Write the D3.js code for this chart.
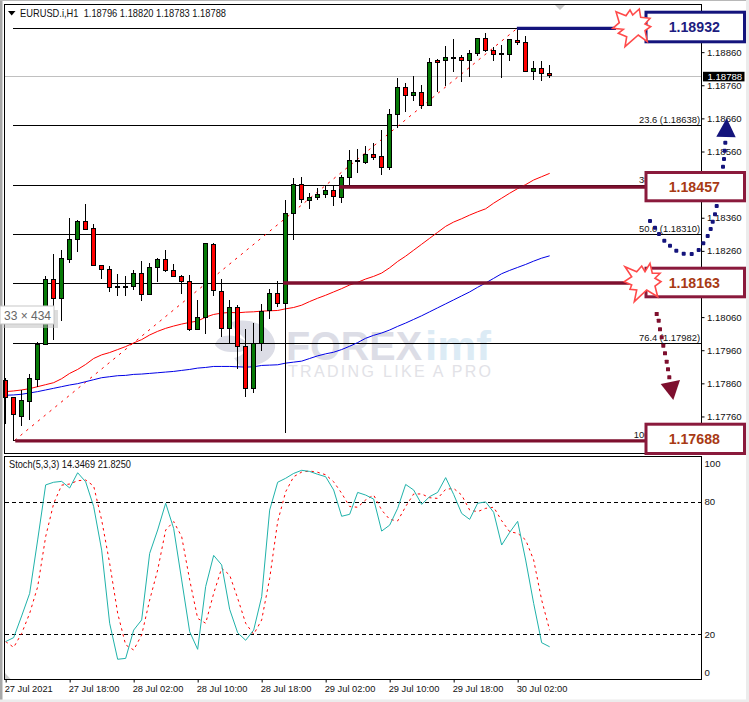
<!DOCTYPE html>
<html><head><meta charset="utf-8">
<script src="https://cdn.jsdelivr.net/npm/d3@7/dist/d3.min.js"></script>
<style>html,body{margin:0;padding:0;background:#fff}svg{display:block}
text{font-family:"Liberation Sans",Arial,sans-serif}</style></head><body>
<svg id="c" width="749" height="702"></svg>
<script>
const opens=[1.17868,1.17816,1.17760,1.17804,1.17872,1.17976,1.18173,1.18116,1.18235,1.18294,1.18349,1.18327,1.18215,1.18203,1.18152,1.18150,1.18152,1.18191,1.18127,1.18209,1.18234,1.18200,1.18182,1.18167,1.18024,1.18058,1.18279,1.18137,1.18027,1.18088,1.17970,1.17845,1.17981,1.18080,1.18131,1.18101,1.18373,1.18461,1.18413,1.18420,1.18429,1.18442,1.18420,1.18482,1.18533,1.18528,1.18551,1.18545,1.18511,1.18672,1.18754,1.18729,1.18739,1.18698,1.18834,1.18835,1.18845,1.18845,1.18835,1.18857,1.18902,1.18866,1.18857,1.18854,1.18896,1.18890,1.18801,1.18812,1.18796];
const highs=[1.17875,1.17818,1.17841,1.17887,1.17986,1.18183,1.18250,1.18264,1.18359,1.18353,1.18401,1.18340,1.18215,1.18215,1.18189,1.18183,1.18203,1.18229,1.18222,1.18237,1.18262,1.18219,1.18186,1.18186,1.18111,1.18283,1.18285,1.18176,1.18111,1.18098,1.18023,1.18041,1.18101,1.18146,1.18168,1.18415,1.18479,1.18482,1.18435,1.18449,1.18458,1.18458,1.18489,1.18564,1.18567,1.18577,1.18585,1.18625,1.18688,1.18782,1.18766,1.18788,1.18761,1.18843,1.18840,1.18879,1.18900,1.18852,1.18865,1.18904,1.18918,1.18877,1.18882,1.18900,1.18932,1.18909,1.18834,1.18834,1.18820];
const lows=[1.17737,1.17687,1.17730,1.17748,1.17848,1.17976,1.17990,1.18048,1.18223,1.18257,1.18322,1.18215,1.18175,1.18136,1.18124,1.18124,1.18141,1.18110,1.18127,1.18165,1.18196,1.18184,1.18129,1.18018,1.18020,1.18008,1.18124,1.17999,1.17980,1.17903,1.17818,1.17830,1.17959,1.18053,1.18090,1.17709,1.18292,1.18403,1.18386,1.18413,1.18420,1.18395,1.18405,1.18458,1.18496,1.18522,1.18534,1.18490,1.18504,1.18630,1.18680,1.18711,1.18688,1.18697,1.18741,1.18758,1.18801,1.18771,1.18786,1.18847,1.18859,1.18832,1.18783,1.18834,1.18883,1.18801,1.18776,1.18774,1.18783];
const closes=[1.17816,1.17765,1.17807,1.17874,1.17977,1.18173,1.18116,1.18237,1.18294,1.18349,1.18326,1.18215,1.18203,1.18149,1.18148,1.18152,1.18191,1.18127,1.18209,1.18234,1.18200,1.18184,1.18166,1.18024,1.18058,1.18282,1.18139,1.18027,1.18088,1.17970,1.17845,1.17981,1.18078,1.18131,1.18101,1.18373,1.18461,1.18415,1.18421,1.18431,1.18442,1.18423,1.18482,1.18533,1.18531,1.18551,1.18542,1.18511,1.18672,1.18754,1.18730,1.18739,1.18698,1.18830,1.18830,1.18845,1.18843,1.18835,1.18857,1.18902,1.18866,1.18854,1.18854,1.18897,1.18889,1.18801,1.18812,1.18796,1.18788];
const maRed=[1.17835,1.17837,1.17840,1.17844,1.17850,1.17856,1.17862,1.17874,1.17890,1.17902,1.17917,1.17935,1.17946,1.17953,1.17962,1.17971,1.17982,1.17992,1.18006,1.18017,1.18026,1.18033,1.18039,1.18044,1.18048,1.18060,1.18068,1.18072,1.18074,1.18073,1.18075,1.18076,1.18078,1.18079,1.18080,1.18085,1.18089,1.18096,1.18107,1.18117,1.18126,1.18136,1.18146,1.18157,1.18165,1.18175,1.18183,1.18193,1.18209,1.18228,1.18244,1.18262,1.18280,1.18298,1.18316,1.18334,1.18347,1.18357,1.18368,1.18378,1.18387,1.18404,1.18419,1.18434,1.18448,1.18460,1.18474,1.18484,1.18494];
const maBlue=[1.17824,1.17825,1.17827,1.17831,1.17835,1.17840,1.17845,1.17850,1.17855,1.17859,1.17865,1.17871,1.17877,1.17880,1.17883,1.17884,1.17887,1.17888,1.17890,1.17892,1.17894,1.17896,1.17899,1.17902,1.17906,1.17908,1.17911,1.17911,1.17911,1.17910,1.17909,1.17910,1.17914,1.17915,1.17916,1.17921,1.17924,1.17927,1.17935,1.17943,1.17949,1.17954,1.17962,1.17972,1.17983,1.17996,1.18005,1.18012,1.18021,1.18032,1.18042,1.18053,1.18064,1.18076,1.18088,1.18100,1.18112,1.18124,1.18136,1.18150,1.18163,1.18177,1.18191,1.18201,1.18210,1.18219,1.18229,1.18238,1.18245];
const stochMain=[16.7,18.5,28.3,38.5,62.7,87.6,88.8,89.2,86.2,93.1,89,77.8,58.1,25,8.7,9.1,21.9,26.5,56.6,67.2,79.3,67.9,44.6,21.2,13.2,41.6,55.7,51.4,31.3,20.7,17.3,21.9,37,76.2,88.8,90.6,92.8,94.2,93.7,92.4,91.3,85.3,73.4,74.3,84.2,83,81.2,66.7,69.4,77,87.8,85.3,78.8,82.3,84.2,90.9,83.3,74.7,72,79.3,79.9,75.2,60.4,66.1,71.1,53.6,34,16.2,14.35];
const stochSignal=[16.7,14.1,20.4,29.5,41.5,64.2,79.2,87.5,88,89.5,89.8,87.1,71.7,52.1,29.5,15.2,12.9,19.7,35.5,49.1,67.2,71,64.2,44.6,27.2,25,38.5,49.9,46.8,36.3,25,20,26.5,45.3,71,84.5,91.3,93.4,93.9,93.3,92.2,89,83.8,77.8,77.5,80.8,83,76.2,72,71.3,77.8,83.5,83.5,81.8,81.5,85.6,86,83,76.2,75.5,77,77.5,71.4,66.4,65.7,62.7,53.6,35.5,21.83];
const priceTicks=[1.18860,1.18760,1.18660,1.18560,1.18460,1.18360,1.18260,1.18160,1.18060,1.17960,1.17860,1.17760];
const stochTicks=[100,80,20,0];
const stochLevels=[80,20];
const timeLabels=["27 Jul 2021","27 Jul 18:00","28 Jul 02:00","28 Jul 10:00","28 Jul 18:00","29 Jul 02:00","29 Jul 10:00","29 Jul 18:00","30 Jul 02:00"];
const timeTickIdx=[0,8,16,24,32,40,48,56,64];
const fiboPrices=[1.18932,1.18638,1.18457,1.18310,1.18163,1.17982,1.17688];
const fiboLabels=["","23.6 (1.18638)","38.2 (1.18457)","50.0 (1.18310)","61.8 (1.18163)","76.4 (1.17982)","100.0 (1.17688)"];
const currentPrice=1.18788;
const boxPrices=["1.18932","1.18457","1.18163","1.17688"];

const svg=d3.select("#c");
const x=d3.scaleLinear().domain([0,68]).range([5.67,549.67]);
const y=d3.scaleLinear().domain([1.17688,1.18932]).range([440.3,28.3]);
const yS=d3.scaleLinear().domain([0,100]).range([678.5,457.5]);
const px=i=>Math.floor(x(i))+.5;
const rowY=p=>Math.round(y(p)-.4)+.5;
const black="#000", GREEN="#067a06", RED="#ff0000", NAVY="#14147c", MAROON="#7e0f2e";

// window frame
svg.append("rect").attr("width",749).attr("height",702).attr("fill","#fff");
svg.append("rect").attr("x",0).attr("y",0).attr("width",2.5).attr("height",702).attr("fill","#a8a8a8");
svg.append("rect").attr("x",0).attr("y",0).attr("width",749).attr("height",1).attr("fill","#b8b8b8");
svg.append("rect").attr("x",746).attr("y",0).attr("width",3).attr("height",702).attr("fill","#ececec");
svg.append("rect").attr("x",0).attr("y",699.5).attr("width",749).attr("height",2.5).attr("fill","#ececec");

// watermark
const wm=svg.append("g");
wm.append("path").attr("d","M232 322 C255 316 277 330 275 348 C273 360 258 368 240 366 L234 358 C246 356 250 345 244 338 C238 332 232 328 232 322Z").attr("fill","#dcdde6");
wm.append("path").attr("d","M215 345 C218 334 232 333 244 340 C250 345 246 352 238 352 C228 352 220 352 215 345Z").attr("fill","#dcdde6");
wm.append("text").attr("x",286).attr("y",360).attr("font-size",41).attr("font-weight",700).attr("fill","#dcdde6").attr("textLength",136).attr("lengthAdjust","spacingAndGlyphs").text("FOREX");
wm.append("text").attr("x",425).attr("y",360).attr("font-size",41).attr("font-weight",700).attr("fill","#dcebf5").attr("textLength",66).attr("lengthAdjust","spacingAndGlyphs").text("imf");
wm.append("text").attr("x",288).attr("y",377).attr("font-size",16).attr("fill","#e2e2e7").attr("textLength",203).text("TRADING LIKE A PRO");

// current-price line
svg.append("line").attr("x1",5).attr("x2",701).attr("y1",rowY(currentPrice)).attr("y2",rowY(currentPrice)).attr("stroke","#c0c0c0");

// fibo levels
svg.append("g").attr("shape-rendering","crispEdges").selectAll("line").data(fiboPrices).join("line")
 .attr("x1",13).attr("x2",701).attr("y1",rowY).attr("y2",rowY).attr("stroke",black);
svg.append("g").selectAll("text").data(fiboPrices).join("text")
 .attr("x",700).attr("y",d=>rowY(d)-3).attr("text-anchor","end").attr("font-size",9.4).attr("fill","#111")
 .text((d,i)=>fiboLabels[i]);
// fibo trend line
svg.append("line").attr("x1",x(1)+1).attr("y1",y(1.17688)).attr("x2",x(64)-.5).attr("y2",y(1.18932))
 .attr("stroke",RED).attr("stroke-dasharray","2.5,5");

// moving averages
const ln=sc=>d3.line().x((d,i)=>x(i)).y(d=>sc(d));
svg.append("path").attr("d",ln(y)(maBlue)).attr("fill","none").attr("stroke","#0000e6");
svg.append("path").attr("d",ln(y)(maRed)).attr("fill","none").attr("stroke",RED);

// candles
const idx=d3.range(closes.length);
const cg=svg.append("g").attr("shape-rendering","crispEdges");
cg.selectAll("line").data(idx).join("line").attr("x1",px).attr("x2",px)
 .attr("y1",i=>y(highs[i])).attr("y2",i=>y(lows[i])).attr("stroke",black);
cg.selectAll("rect").data(idx).join("rect")
 .attr("x",i=>px(i)-2).attr("width",4)
 .attr("y",i=>Math.min(y(opens[i]),y(closes[i])))
 .attr("height",i=>Math.max(1,Math.abs(y(opens[i])-y(closes[i]))))
 .attr("fill",i=>closes[i]>=opens[i]?GREEN:RED).attr("stroke",black);

// thick annotation lines
const thick=[[1.18932,63.9,616,NAVY,3.2],[1.18453,41.7,650,MAROON,3.6],[1.18163,34.7,630,MAROON,3.6],[1.17686,1.2,650,MAROON,3.2]];
svg.append("g").selectAll("line").data(thick).join("line")
 .attr("x1",d=>x(d[1])).attr("x2",d=>d[2]).attr("y1",d=>y(d[0])).attr("y2",d=>y(d[0])).attr("stroke",d=>d[3]).attr("stroke-width",d=>d[4]);

// panels & axes
const frame=svg.append("g").attr("shape-rendering","crispEdges");
frame.append("path").attr("d","M4.5 4.5H701.5V453.5H4.5Z").attr("fill","none").attr("stroke",black);
frame.append("path").attr("d","M4.5 456.5H701.5V679.5H4.5Z").attr("fill","none").attr("stroke",black);

const axP=svg.append("g").attr("transform","translate(701.5,0)")
 .call(d3.axisRight(y).tickValues(priceTicks).tickFormat(d3.format(".5f")).tickSize(3).tickPadding(2.5));
axP.select(".domain").remove();
axP.selectAll("text").attr("font-size",9.6).attr("font-family","Liberation Sans").attr("fill","#111");
axP.selectAll("line").attr("stroke",black);

const axT=svg.append("g").attr("transform","translate(0,679.5)")
 .call(d3.axisBottom(x).tickValues(timeTickIdx).tickFormat((d,i)=>timeLabels[i]).tickSize(3).tickPadding(3));
axT.select(".domain").remove();
axT.selectAll("text").attr("font-size",9.3).attr("font-family","Liberation Sans").attr("fill","#111").attr("text-anchor","start").attr("dx",-1.5);
axT.selectAll("line").attr("stroke",black);

const axS=svg.append("g").attr("transform","translate(701.5,0)")
 .call(d3.axisRight(yS).tickValues(stochTicks).tickSize(0).tickPadding(3));
axS.select(".domain").remove();
axS.selectAll("text").attr("font-size",9.6).attr("font-family","Liberation Sans").attr("fill","#111")
 .attr("dy",d=>d===100?"0.92em":d===0?"-0.3em":"0.32em");

// stochastic
svg.append("g").selectAll("line").data(stochLevels).join("line")
 .attr("x1",5).attr("x2",701).attr("y1",d=>Math.round(yS(d))+.5).attr("y2",d=>Math.round(yS(d))+.5)
 .attr("stroke",black).attr("stroke-dasharray","4,3");
svg.append("path").attr("d",ln(yS)(stochSignal)).attr("fill","none").attr("stroke",RED).attr("stroke-dasharray","2.5,3.5");
svg.append("path").attr("d",ln(yS)(stochMain)).attr("fill","none").attr("stroke","#20b2aa");

// small markers
svg.append("path").attr("d","M8 11H15.5L11.7 15.5Z").attr("fill",black);
svg.append("path").attr("d","M555 5H565L560 10Z").attr("fill","#c8c8c8");
svg.append("path").attr("d","M5 673L10.5 679H5Z").attr("fill","#cfcfcf");

// headers
svg.append("text").attr("x",20).attr("y",16.5).attr("font-size",10.4).attr("fill","#111").attr("xml:space","preserve")
 .attr("textLength",206).attr("lengthAdjust","spacingAndGlyphs")
 .text("EURUSD.i,H1  1.18796 1.18820 1.18783 1.18788");
svg.append("text").attr("x",9).attr("y",468).attr("font-size",10.2).attr("fill","#111")
 .attr("textLength",122).attr("lengthAdjust","spacingAndGlyphs")
 .text("Stoch(5,3,3) 14.3469 21.8250");

// current price tag
svg.append("rect").attr("x",703).attr("y",y(currentPrice)-4.2).attr("width",41.5).attr("height",9.6).attr("fill",black);
svg.append("text").attr("x",707.5).attr("y",y(currentPrice)+3.8).attr("font-size",9.6).attr("fill","#fff").text(d3.format(".5f")(currentPrice));

// dotted arrows (drawn below the boxes)
const dotsNavy=[[650,221],[655,227.7],[659,234],[664.3,240.7],[670,245.7],[676.3,250.7],[683.7,253.7],[691.7,254],[698.7,250],[703.3,243.3],[707.7,236],[710.7,229],[712.7,221.7],[715,214.3],[716.7,206],[721,182],[723,166.7],[724,159],[724.7,150.7],[725.3,142.7]];
const dotsMaroon=[[656.7,314],[658.7,320.7],[660,329.3],[661.7,337.3],[663.3,345.7],[665,353.3],[666.7,361.7],[668,369.3],[669.3,377.3]];
svg.append("g").selectAll("rect").data(dotsNavy).join("rect").attr("x",d=>d[0]-2).attr("y",d=>d[1]-2).attr("width",4).attr("height",4).attr("rx",1).attr("fill",NAVY);
svg.append("g").selectAll("rect").data(dotsMaroon).join("rect").attr("x",d=>d[0]-2).attr("y",d=>d[1]-2).attr("width",4).attr("height",4).attr("rx",.6).attr("fill",MAROON);
svg.append("path").attr("d","M716.3 136.7L735.7 137.3L726.7 118.3Z").attr("fill",NAVY);
svg.append("path").attr("d","M660.7 384L680 380L673.3 400Z").attr("fill",MAROON);

// boxes
const boxY=[[10.7,43.3],[171,202.3],[266.7,298.3],[422.7,455]];
const boxText=["#1c1c80","#a83a14","#a83a14","#a83a14"];
const boxStroke=[NAVY,"#8a1a3c","#8a1a3c","#8a1a3c"];
const bx=svg.append("g");
boxPrices.forEach((t,i)=>{
 bx.append("rect").attr("x",646).attr("y",boxY[i][0]+1.5).attr("width",98.5).attr("height",boxY[i][1]-boxY[i][0]-3)
  .attr("fill","#fff").attr("stroke",boxStroke[i]).attr("stroke-width",3);
 bx.append("text").attr("x",694.3).attr("y",(boxY[i][0]+boxY[i][1])/2+5).attr("text-anchor","middle")
  .attr("font-size",14.2).attr("font-weight",700).attr("fill",boxText[i]).text(t);
});

// starbursts
const burst1=[[616,11.7],[626,15.7],[630,10],[632.7,15],[639.3,9],[640.7,17.3],[650,18.3],[645,24],[650.7,26.7],[645,30.7],[647.3,41.7],[638.3,35],[625,46.7],[626.7,36.7],[618.3,33.3],[623.3,29.3],[612.7,28.3],[619.3,22.7]];
const burst2=[[625,266.7],[636.7,271.7],[641.7,266],[645,271.7],[650,263.3],[652.3,273.3],[660,273.3],[655,278.3],[661,281.7],[655,286],[657.7,296.7],[646.7,290],[634.3,301.7],[636.7,290],[630,289.3],[631.7,285],[624.3,281.7],[631.7,276.7]];
[burst1,burst2].forEach(b=>svg.append("path").attr("d",d3.line().curve(d3.curveLinearClosed)(b)).attr("fill","#fff").attr("stroke","#ff4a4a").attr("stroke-width",1.6));

// size tooltip
svg.append("rect").attr("x",3).attr("y",310).attr("width",55).attr("height",18).attr("fill","#bbb").attr("opacity",.5);
svg.append("rect").attr("x",0).attr("y",306).attr("width",54).attr("height",18).attr("fill","#fff").attr("stroke","#c8c8c8");
svg.append("text").attr("x",4).attr("y",319.5).attr("font-size",12).attr("fill","#666").text("33 × 434");
</script></body></html>
